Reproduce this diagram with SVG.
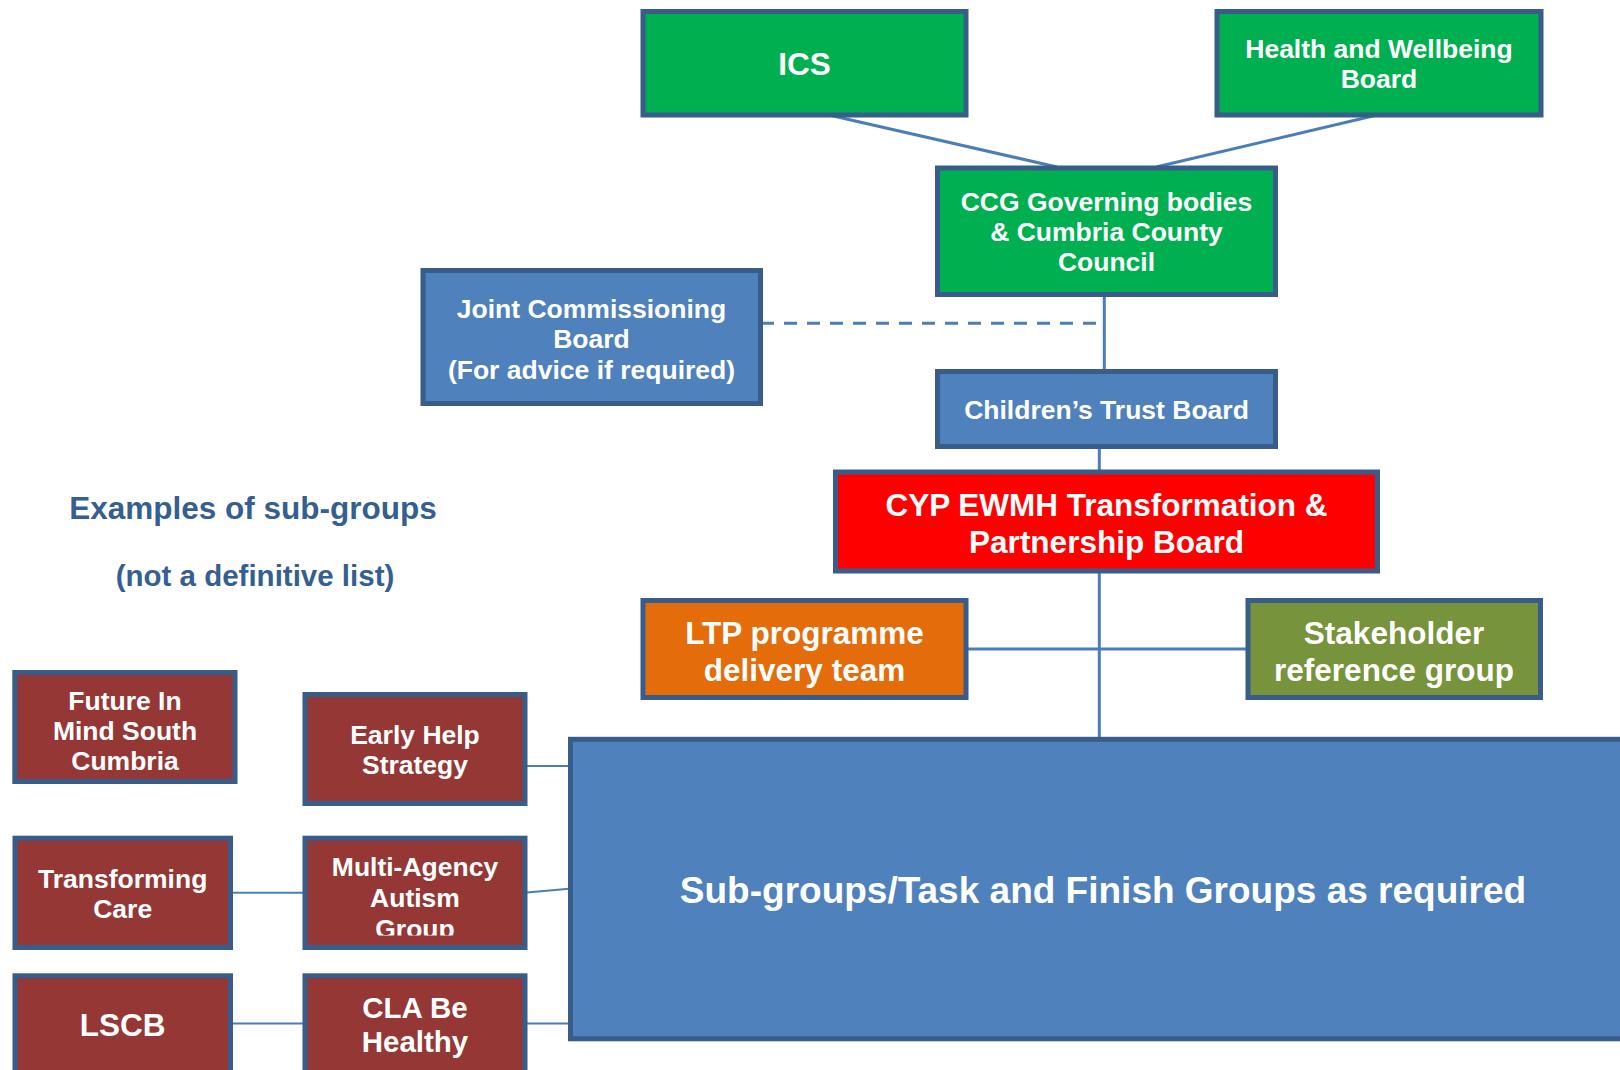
<svg xmlns="http://www.w3.org/2000/svg" width="1620" height="1070" viewBox="0 0 1620 1070">
<style>
  .box { stroke: #385D8A; stroke-width: 5; }
  .green { fill: #00B050; }
  .blue { fill: #4F81BD; }
  .red { fill: #FF0000; }
  .orange { fill: #E46C0A; }
  .olive { fill: #77933C; }
  .maroon { fill: #953735; }
  text { font-family: "Liberation Sans", Arial, sans-serif; font-weight: bold; fill: #FFFFFF; text-anchor: middle; }
  .f26 { font-size: 26.5px; }
  .f29 { font-size: 29.5px; }
  .f31 { font-size: 31.5px; }
  .f37 { font-size: 37px; }
  .heading { fill: #365F91; }
  .conn { stroke: #4A7EBB; fill: none; stroke-width: 3; }
  .thin { stroke-width: 2; }
  .dash { stroke-dasharray: 13 10; }
</style>
<defs>
  <clipPath id="multiClip"><rect x="305" y="838" width="220" height="97.5"/></clipPath>
</defs>
<rect width="1620" height="1070" fill="#FFFFFF"/>

<g id="connectors">
  <line class="conn" x1="829" y1="115" x2="1057" y2="167"/>
  <line class="conn" x1="1377" y1="115" x2="1156" y2="167"/>
  <line class="conn" x1="1104.3" y1="296" x2="1104.3" y2="370"/>
  <line class="conn dash" x1="761" y1="323.3" x2="1103" y2="323.3"/>
  <line class="conn" x1="1099.3" y1="447" x2="1099.3" y2="471"/>
  <line class="conn" x1="1099.3" y1="572" x2="1099.3" y2="738"/>
  <line class="conn" x1="967" y1="649" x2="1246" y2="649"/>
  <line class="conn thin" x1="527" y1="766" x2="569" y2="766"/>
  <line class="conn thin" x1="233" y1="892.7" x2="303" y2="892.7"/>
  <line class="conn thin" x1="527" y1="892.5" x2="569" y2="888.7"/>
  <line class="conn thin" x1="233" y1="1023.5" x2="303" y2="1023.5"/>
  <line class="conn thin" x1="527" y1="1023.5" x2="569" y2="1023.5"/>
</g>

<g id="ics">
  <rect class="box green" x="643" y="11.5" width="323" height="103.5"/>
  <text class="f31" x="804.5" y="75">ICS</text>
</g>

<g id="hwb">
  <rect class="box green" x="1217" y="11.5" width="324" height="103.5"/>
  <text class="f26" x="1379" y="57.5">Health and Wellbeing</text>
  <text class="f26" x="1379" y="88">Board</text>
</g>

<g id="ccg">
  <rect class="box green" x="937.5" y="168" width="338" height="126.5"/>
  <text class="f26" x="1106.5" y="211">CCG Governing bodies</text>
  <text class="f26" x="1106.5" y="241">&amp; Cumbria County</text>
  <text class="f26" x="1106.5" y="271">Council</text>
</g>

<g id="jcb">
  <rect class="box blue" x="423" y="270.5" width="337.5" height="133"/>
  <text class="f26" x="591.5" y="317.5">Joint Commissioning</text>
  <text class="f26" x="591.5" y="348">Board</text>
  <text class="f26" x="591.5" y="379">(For advice if required)</text>
</g>

<g id="ctb">
  <rect class="box blue" x="937.5" y="371.5" width="338" height="75"/>
  <text class="f26" x="1106.5" y="418.5">Children’s Trust Board</text>
</g>

<g id="cyp">
  <rect class="box red" x="835.5" y="472" width="542" height="99"/>
  <text class="f31" x="1106.5" y="516">CYP EWMH Transformation &amp;</text>
  <text class="f31" x="1106.5" y="552.5">Partnership Board</text>
</g>

<g id="ltp">
  <rect class="box orange" x="643" y="600.5" width="323" height="97"/>
  <text class="f31" x="804.5" y="644">LTP programme</text>
  <text class="f31" x="804.5" y="681">delivery team</text>
</g>

<g id="stakeholder">
  <rect class="box olive" x="1248" y="600.5" width="292.5" height="97"/>
  <text class="f31" x="1394" y="644">Stakeholder</text>
  <text class="f31" x="1394" y="681">reference group</text>
</g>

<g id="subgroups">
  <rect class="box blue" x="570.5" y="739.3" width="1080" height="299.5"/>
  <text class="f37" x="1103" y="903">Sub-groups/Task and Finish Groups as required</text>
</g>

<g id="examples-label">
  <text class="heading f31" x="253" y="519">Examples of sub-groups</text>
  <text class="heading f29" x="255" y="586.3">(not a definitive list)</text>
</g>

<g id="future-in-mind">
  <rect class="box maroon" x="14.8" y="672.5" width="220.2" height="109"/>
  <text class="f26" x="125" y="710.3">Future In</text>
  <text class="f26" x="125" y="740.3">Mind South</text>
  <text class="f26" x="125" y="770.3">Cumbria</text>
</g>

<g id="early-help">
  <rect class="box maroon" x="305" y="694.5" width="220" height="109"/>
  <text class="f26" x="415" y="744.3">Early Help</text>
  <text class="f26" x="415" y="774.3">Strategy</text>
</g>

<g id="transforming-care">
  <rect class="box maroon" x="15" y="838.2" width="215.5" height="109.3"/>
  <text class="f26" x="122.7" y="887.5">Transforming</text>
  <text class="f26" x="122.7" y="917.5">Care</text>
</g>

<g id="multi-agency">
  <rect class="box maroon" x="305" y="838.2" width="220" height="109.3"/>
  <g clip-path="url(#multiClip)">
    <text class="f26" x="415" y="876">Multi-Agency</text>
    <text class="f26" x="415" y="907">Autism</text>
    <text class="f26" x="415" y="938">Group</text>
  </g>
</g>

<g id="lscb">
  <rect class="box maroon" x="15" y="975.8" width="215.5" height="120"/>
  <text class="f31" x="122.7" y="1036">LSCB</text>
</g>

<g id="cla">
  <rect class="box maroon" x="305" y="975.8" width="220" height="120"/>
  <text class="f29" x="415" y="1018">CLA Be</text>
  <text class="f29" x="415" y="1052">Healthy</text>
</g>
</svg>
